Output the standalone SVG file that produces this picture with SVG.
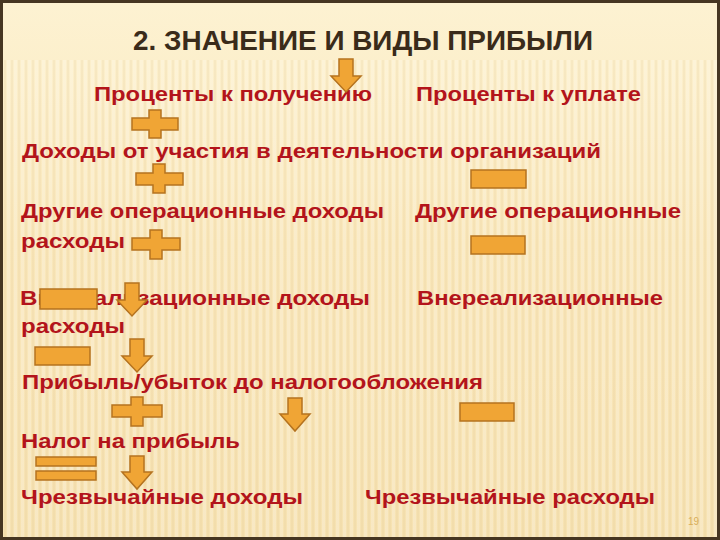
<svg xmlns="http://www.w3.org/2000/svg" width="720" height="540" viewBox="0 0 720 540">
  <defs>
    <linearGradient id="bg" x1="0" y1="0" x2="0" y2="1">
      <stop offset="0" stop-color="#fdf2d2"/>
      <stop offset="0.45" stop-color="#f9e7bb"/>
      <stop offset="1" stop-color="#f6e2b2"/>
    </linearGradient>
    <pattern id="stripes" width="7" height="10" patternUnits="userSpaceOnUse">
      <rect x="0" y="0" width="3" height="10" fill="#ffffff" opacity="0.22"/>
      <rect x="4" y="0" width="2" height="10" fill="#d9b77a" opacity="0.12"/>
    </pattern>
    <linearGradient id="hline" x1="0" y1="0" x2="1" y2="0">
      <stop offset="0" stop-color="#dcae6e" stop-opacity="0.25"/>
      <stop offset="0.4" stop-color="#dcae6e" stop-opacity="0.8"/>
      <stop offset="1" stop-color="#dcae6e" stop-opacity="0.9"/>
    </linearGradient>
    <style>
      .t { font-family: "Liberation Sans", Arial, sans-serif; font-weight: bold; font-size: 21px; fill: #b3141b; }
      .title { font-family: "Liberation Sans", Arial, sans-serif; font-weight: bold; font-size: 28px; fill: #3a2b1a; }
      .sym { fill: #f0a535; stroke: #b5731f; stroke-width: 1.5; stroke-linejoin: miter; }
      .pg { font-family: "Liberation Sans", Arial, sans-serif; font-size: 10px; fill: #d9ae5a; }
    </style>
  </defs>

  <rect x="0" y="0" width="720" height="540" fill="url(#bg)"/>
  <rect x="0" y="60" width="720" height="480" fill="url(#stripes)"/>
  <line x1="0" y1="82" x2="720" y2="82" stroke="url(#hline)" stroke-width="1.5"/>
  <rect x="1.5" y="1.5" width="717" height="537" fill="none" stroke="#463622" stroke-width="3"/>

  <g id="title">
    <text class="title" x="133" y="50" textLength="460" lengthAdjust="spacingAndGlyphs">2. ЗНАЧЕНИЕ И ВИДЫ ПРИБЫЛИ</text>
  </g>

  <g id="row1">
    <text class="t" x="94" y="101" textLength="278" lengthAdjust="spacingAndGlyphs">Проценты к получению</text>
    <text class="t" x="416" y="101" textLength="225" lengthAdjust="spacingAndGlyphs">Проценты к уплате</text>
  </g>
  <g id="row2">
    <text class="t" x="22" y="158" textLength="579" lengthAdjust="spacingAndGlyphs">Доходы от участия в деятельности организаций</text>
  </g>
  <g id="row3">
    <text class="t" x="21" y="218" textLength="363" lengthAdjust="spacingAndGlyphs">Другие операционные доходы</text>
    <text class="t" x="21" y="248" textLength="104" lengthAdjust="spacingAndGlyphs">расходы</text>
    <text class="t" x="415" y="218" textLength="266" lengthAdjust="spacingAndGlyphs">Другие операционные</text>
  </g>
  <g id="row4">
    <text class="t" x="20" y="305" textLength="350" lengthAdjust="spacingAndGlyphs">Внереализационные доходы</text>
    <text class="t" x="21" y="333" textLength="104" lengthAdjust="spacingAndGlyphs">расходы</text>
    <text class="t" x="417" y="305" textLength="246" lengthAdjust="spacingAndGlyphs">Внереализационные</text>
  </g>
  <g id="row5">
    <text class="t" x="22" y="389" textLength="461" lengthAdjust="spacingAndGlyphs">Прибыль/убыток до налогообложения</text>
  </g>
  <g id="row6">
    <text class="t" x="21" y="448" textLength="219" lengthAdjust="spacingAndGlyphs">Налог на прибыль</text>
  </g>
  <g id="row7">
    <text class="t" x="21" y="504" textLength="282" lengthAdjust="spacingAndGlyphs">Чрезвычайные доходы</text>
    <text class="t" x="365" y="504" textLength="290" lengthAdjust="spacingAndGlyphs">Чрезвычайные расходы</text>
  </g>

  <g id="operators">
    <g id="plus1"><path class="sym" d="M149,110 H161 V118 H178 V130 H161 V138 H149 V130 H132 V118 H149 Z"/></g>
    <g id="plus2"><path class="sym" d="M153,164 H165 V173 H183 V185 H165 V193 H153 V185 H136 V173 H153 Z"/></g>
    <g id="plus3"><path class="sym" d="M150,230 H162 V238 H180 V250 H162 V259 H150 V250 H132 V238 H150 Z"/></g>
    <g id="plus4"><path class="sym" d="M131,397 H143 V405 H162 V417 H143 V426 H131 V417 H112 V405 H131 Z"/></g>

    <g id="minus1"><rect class="sym" x="471" y="170" width="55" height="18"/></g>
    <g id="minus2"><rect class="sym" x="471" y="236" width="54" height="18"/></g>
    <g id="minus3"><rect class="sym" x="40" y="289" width="57" height="20"/></g>
    <g id="minus4"><rect class="sym" x="35" y="347" width="55" height="18"/></g>
    <g id="minus5"><rect class="sym" x="460" y="403" width="54" height="18"/></g>
    <g id="equals">
      <rect class="sym" x="36" y="457" width="60" height="9"/>
      <rect class="sym" x="36" y="471" width="60" height="9"/>
    </g>

    <g id="arrow1"><path class="sym" d="M339,59 H353 V76 H361 L346,92 L331,76 H339 Z"/></g>
    <g id="arrow2"><path class="sym" d="M125,283 H139 V300 H147 L132,316 L117,300 H125 Z"/></g>
    <g id="arrow3"><path class="sym" d="M130,339 H144 V356 H152 L137,372 L122,356 H130 Z"/></g>
    <g id="arrow4"><path class="sym" d="M288,398 H302 V414 H310 L295,431 L280,414 H288 Z"/></g>
    <g id="arrow5"><path class="sym" d="M130,456 H144 V472 H152 L137,489 L122,472 H130 Z"/></g>
  </g>

  <text class="pg" x="688" y="525">19</text>
</svg>
